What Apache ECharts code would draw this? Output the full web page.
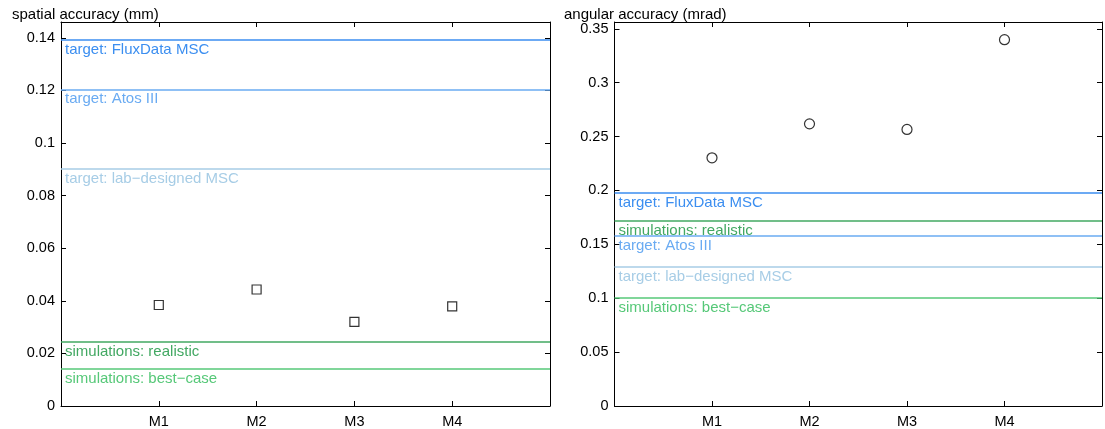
<!DOCTYPE html>
<html>
<head>
<meta charset="utf-8">
<script src="https://cdn.jsdelivr.net/npm/echarts@6/dist/echarts.min.js"></script>
<style>
html,body{margin:0;padding:0;background:#fff;}
#c{width:1105px;height:429px;}
</style>
</head>
<body>
<div id="c"></div>
<script>
var categories = ['M1', 'M2', 'M3', 'M4'];
var spatialValues = [0.0384, 0.0443, 0.0320, 0.0379];
var angularValues = [0.2303, 0.2618, 0.2566, 0.3399];

var spatialRefNames = ['target: FluxData MSC', 'target: Atos III', 'target: lab\u2212designed MSC', 'simulations: realistic', 'simulations: best\u2212case'];
var spatialRefValues = [0.1392, 0.1204, 0.0901, 0.0243, 0.0140];
var angularRefNames = ['target: FluxData MSC', 'simulations: realistic', 'target: Atos III', 'target: lab\u2212designed MSC', 'simulations: best\u2212case'];
var angularRefValues = [0.1980, 0.1721, 0.1582, 0.1290, 0.1003];

var refColors = {
  'target: FluxData MSC': '#3b8ef0',
  'target: Atos III': '#6aabf2',
  'target: lab\u2212designed MSC': '#a7cde6',
  'simulations: realistic': '#42a862',
  'simulations: best\u2212case': '#56c878'
};

var FONT = 'Liberation Sans, Arial, Helvetica, sans-serif';
var FS = 14.5;
var FS_TXT = 15;

function xAxes(gi) {
  var base = {
    type: 'value', gridIndex: gi, min: 0, max: 5, interval: 1,
    axisLine: { show: true, onZero: false, lineStyle: { color: '#000', width: 1 } },
    axisTick: { show: true, inside: true, length: 5, lineStyle: { color: '#000' } },
    splitLine: { show: false }
  };
  var bottom = Object.assign({}, base, {
    position: 'bottom',
    axisLabel: {
      show: true, color: '#000', fontSize: FS, fontFamily: FONT, margin: 8,
      formatter: function (v) { return categories[v - 1] || ''; }
    }
  });
  var top = Object.assign({}, base, { position: 'top', axisLabel: { show: false } });
  return [bottom, top];
}

function yAxes(gi, max, interval) {
  var base = {
    type: 'value', gridIndex: gi, min: 0, max: max, interval: interval,
    axisLine: { show: true, onZero: false, lineStyle: { color: '#000', width: 1 } },
    axisTick: { show: true, inside: true, length: 5, lineStyle: { color: '#000' } },
    splitLine: { show: false }
  };
  var left = Object.assign({}, base, {
    position: 'left',
    axisLabel: { show: true, color: '#000', fontSize: FS, fontFamily: FONT, margin: 6, showMaxLabel: false }
  });
  var right = Object.assign({}, base, { position: 'right', axisLabel: { show: false } });
  return [left, right];
}

function refLines(names, values) {
  return names.map(function (n, i) {
    return {
      yAxis: values[i],
      lineStyle: { color: refColors[n], width: 1.5, type: 'solid' },
      label: {
        show: true, position: 'insideStartBottom', formatter: n,
        color: refColors[n], fontSize: FS_TXT, fontFamily: FONT, distance: [4, 2.5]
      }
    };
  });
}

var chart = echarts.init(document.getElementById('c'), null, { renderer: 'canvas' });
var xa = xAxes(0).concat(xAxes(1));
var ya = yAxes(0, 0.146, 0.02).concat(yAxes(1, 0.3563, 0.05));

chart.setOption({
  animation: false,
  backgroundColor: '#fff',
  textStyle: { fontFamily: FONT },
  title: [
    { text: 'spatial accuracy (mm)', left: 12, top: 7, padding: 0, textStyle: { fontSize: FS_TXT, fontWeight: 'normal', color: '#000', fontFamily: FONT } },
    { text: 'angular accuracy (mrad)', left: 564, top: 7, padding: 0, textStyle: { fontSize: FS_TXT, fontWeight: 'normal', color: '#000', fontFamily: FONT } }
  ],
  grid: [
    { left: 61, top: 22, width: 489, height: 385, show: false },
    { left: 614.5, top: 22, width: 489, height: 385, show: false }
  ],
  xAxis: xa,
  yAxis: ya,
  series: [
    {
      type: 'scatter', xAxisIndex: 0, yAxisIndex: 0,
      symbol: 'rect', symbolSize: 9,
      itemStyle: { color: '#fff', borderColor: '#000', borderWidth: 1.2 },
      data: spatialValues.map(function (v, i) { return [i + 1, v]; }),
      z: 5,
      markLine: { silent: true, symbol: 'none', animation: false, precision: 6, data: refLines(spatialRefNames, spatialRefValues) }
    },
    {
      type: 'scatter', xAxisIndex: 2, yAxisIndex: 2,
      symbol: 'circle', symbolSize: 10,
      itemStyle: { color: '#fff', borderColor: '#000', borderWidth: 1.2 },
      data: angularValues.map(function (v, i) { return [i + 1, v]; }),
      z: 5,
      markLine: { silent: true, symbol: 'none', animation: false, precision: 6, data: refLines(angularRefNames, angularRefValues) }
    }
  ]
});
</script>
</body>
</html>
